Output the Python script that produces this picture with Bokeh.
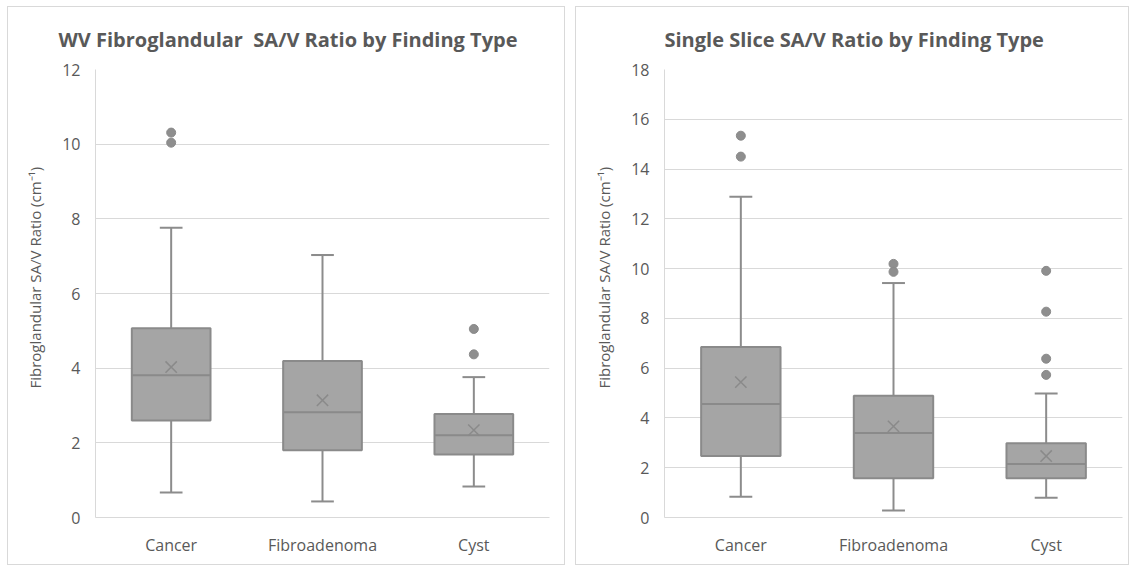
from bokeh.plotting import figure
from bokeh.models import ColumnDataSource, Range1d, FixedTicker, Title
from bokeh.layouts import row
from bokeh.transform import dodge
from bokeh.embed import file_html
from bokeh.resources import INLINE

cats = ["Cancer", "Fibroadenoma", "Cyst"]

# WV Fibroglandular SA/V ratio
wv_low = [0.67, 0.43, 0.83]
wv_q1 = [2.60, 1.80, 1.69]
wv_med = [3.81, 2.82, 2.20]
wv_q3 = [5.07, 4.19, 2.77]
wv_high = [7.76, 7.03, 3.76]
wv_mean = [4.03, 3.14, 2.34]
wv_out_cat = ["Cancer", "Cancer", "Cyst", "Cyst"]
wv_out_val = [10.31, 10.04, 5.05, 4.37]

# Single slice SA/V ratio
ss_low = [0.83, 0.28, 0.79]
ss_q1 = [2.47, 1.58, 1.58]
ss_med = [4.56, 3.40, 2.15]
ss_q3 = [6.85, 4.89, 2.98]
ss_high = [12.89, 9.42, 4.98]
ss_mean = [5.44, 3.66, 2.47]
ss_out_cat = ["Cancer", "Cancer", "Fibroadenoma", "Fibroadenoma", "Cyst", "Cyst", "Cyst", "Cyst"]
ss_out_val = [15.34, 14.50, 10.19, 9.87, 9.91, 8.27, 6.38, 5.73]

Y_LABEL = "Fibroglandular SA/V Ratio (cm\u207b\u00b9)"

FONT = "Open Sans"
TXT = "#595959"
GRID = "#d9d9d9"
BOX_FILL = "#a5a5a5"
LINE = "#8c8c8c"


def make_panel(title, low, q1, med, q3, high, mean, out_cat, out_val, ymax, tick_step,
               width, border_left, border_right, title_offset):
    p = figure(x_range=cats, y_range=Range1d(0, ymax), width=width, height=559,
               output_backend="svg", toolbar_location=None,
               min_border_left=border_left, min_border_right=border_right,
               min_border_top=61, min_border_bottom=49)
    p.styles = {"border": "1px solid #d9d9d9", "box-sizing": "border-box"}
    p.title.text = title
    p.title.align = "left"
    p.title.offset = title_offset
    p.title.text_font = FONT
    p.title.text_font_size = "20px"
    p.title.text_font_style = "bold"
    p.title.text_color = TXT
    p.title.standoff = 33
    p.outline_line_color = None
    p.background_fill_color = "white"
    p.border_fill_color = "white"

    src = ColumnDataSource(dict(cat=cats, low=low, q1=q1, med=med, q3=q3, high=high, mean=mean))
    # whiskers
    p.segment(x0="cat", y0="q3", x1="cat", y1="high", source=src, line_color=LINE, line_width=2)
    p.segment(x0="cat", y0="low", x1="cat", y1="q1", source=src, line_color=LINE, line_width=2)
    p.segment(x0=dodge("cat", -0.075, range=p.x_range), y0="high",
              x1=dodge("cat", 0.075, range=p.x_range), y1="high", source=src,
              line_color=LINE, line_width=2)
    p.segment(x0=dodge("cat", -0.075, range=p.x_range), y0="low",
              x1=dodge("cat", 0.075, range=p.x_range), y1="low", source=src,
              line_color=LINE, line_width=2)
    # boxes
    p.vbar(x="cat", width=0.52, bottom="q1", top="q3", source=src,
           fill_color=BOX_FILL, line_color="#8a8a8a", line_width=2)
    # medians
    p.segment(x0=dodge("cat", -0.26, range=p.x_range), y0="med",
              x1=dodge("cat", 0.26, range=p.x_range), y1="med", source=src,
              line_color="#8a8a8a", line_width=2)
    # means
    p.scatter(x="cat", y="mean", source=src, marker="x", size=16,
              line_color="#8a8a8a", line_width=1.5)
    # outliers
    p.scatter(x=out_cat, y=out_val, marker="circle", size=9,
              fill_color="#8e8e8e", line_color="#8a8a8a")

    p.yaxis.ticker = FixedTicker(ticks=list(range(0, ymax + 1, tick_step)))
    for ax in (p.xaxis, p.yaxis):
        ax.axis_line_color = GRID
        ax.major_tick_line_color = None
        ax.minor_tick_line_color = None
        ax.major_label_text_font = FONT
        ax.major_label_text_font_size = "16px"
        ax.major_label_text_color = TXT
    p.yaxis.major_label_standoff = 9
    p.xaxis.major_label_standoff = 10
    p.xgrid.grid_line_color = None
    p.ygrid.grid_line_color = GRID
    p.ygrid.grid_line_width = 1

    # y-axis title, as a side title so that it can sit where the original does
    ylab = Title(text=Y_LABEL, align="left", offset=129, standoff=29,
                 text_font=FONT, text_font_size="15px", text_font_style="normal",
                 text_color=TXT)
    p.add_layout(ylab, "left")
    return p


p1 = make_panel("WV Fibroglandular\u00a0 SA/V Ratio by Finding Type",
                wv_low, wv_q1, wv_med, wv_q3, wv_high, wv_mean, wv_out_cat, wv_out_val,
                12, 2, 558, 86, 17, -37)
p2 = make_panel("Single Slice SA/V Ratio by Finding Type",
                ss_low, ss_q1, ss_med, ss_q3, ss_high, ss_mean, ss_out_cat, ss_out_val,
                18, 2, 554, 88, 8, 0)

layout = row(p1, p2, spacing=10)
layout.styles = {"margin-left": "7px", "margin-top": "6px"}
open("out.html", "w").write(file_html(layout, INLINE))
